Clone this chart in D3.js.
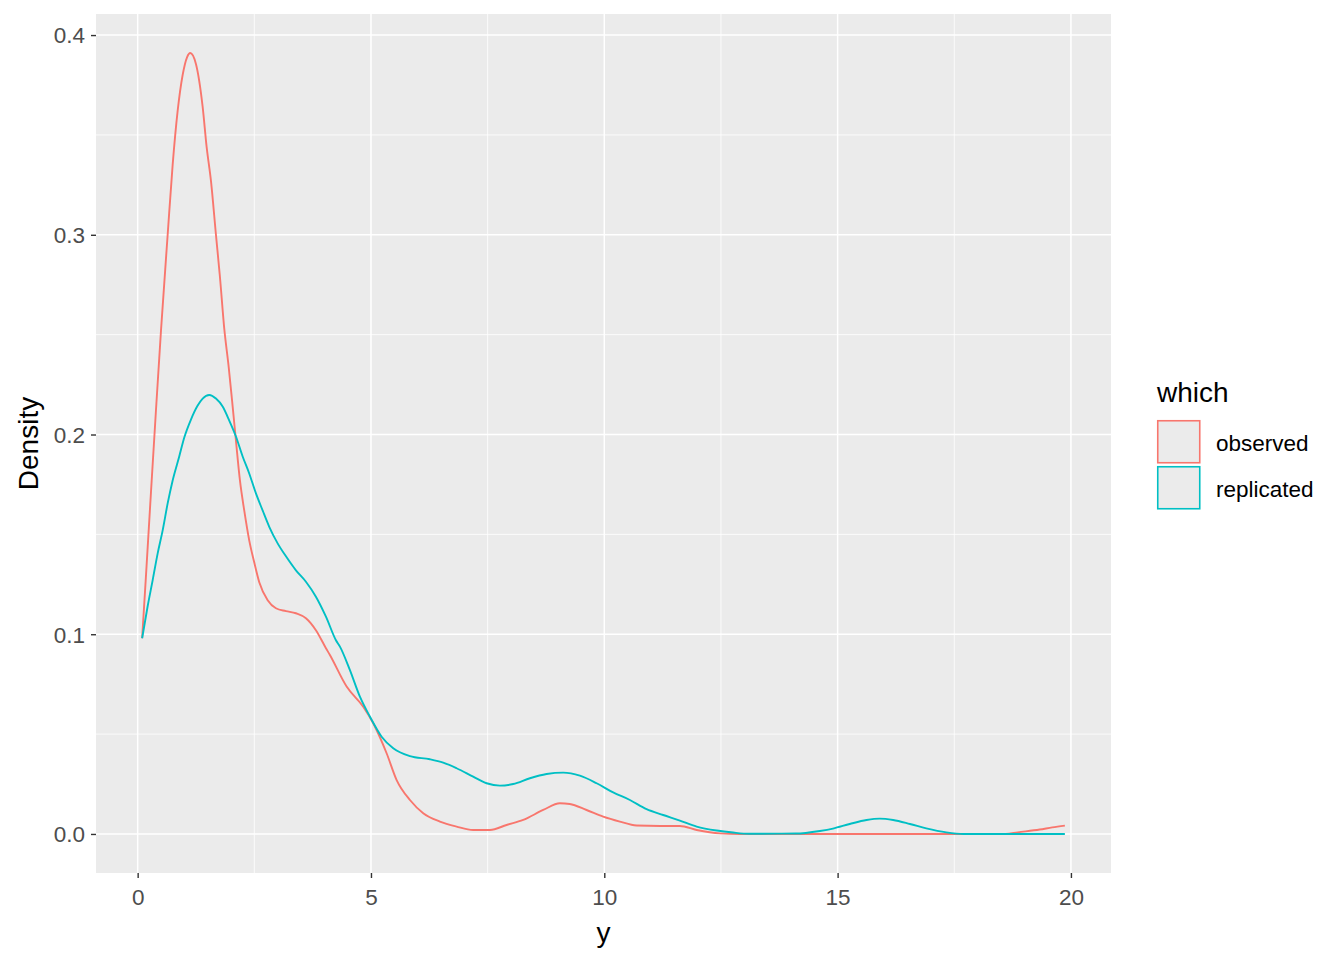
<!DOCTYPE html>
<html>
  <head>
    <meta charset="utf-8">
    <title>Density</title>
    <style>
      body { margin: 0; background: #fff; }
      text { font-family: "Liberation Sans", Arial, sans-serif; }
    </style>
  </head>
  <body>
    <div id="chart"></div>
    <script src="https://cdn.jsdelivr.net/npm/d3@7"></script>
    <script>
      var seriesNames = ['observed', 'replicated'];
      var seriesColors = ['#F8766D', '#00BFC4'];
      var xTicks = [0, 5, 10, 15, 20];
      var yTicks = [0.0, 0.1, 0.2, 0.3, 0.4];
      var yTickLabels = ['0.0', '0.1', '0.2', '0.3', '0.4'];

      // observed density
      var obsX = [0.096, 0.18, 0.285, 0.392, 0.5, 0.643, 0.75, 0.857, 0.964, 1.06, 1.127, 1.249, 1.393, 1.478,
        1.571, 1.678, 1.763, 1.856, 1.95, 2.036, 2.106, 2.192, 2.284, 2.391, 2.498, 2.606, 2.786, 2.963,
        3.178, 3.392, 3.606, 3.82, 4.035, 4.12, 4.478, 4.834, 5.048, 5.335, 5.55, 5.835, 6.12, 6.477,
        6.835, 7.19, 7.55, 7.906, 8.262, 8.69, 9.05, 9.26, 9.62, 9.976, 10.334, 10.69, 11.2, 11.62,
        11.98, 12.48, 12.9, 15.0, 18.6, 18.86, 19.33, 19.6, 19.87];
      var obsY = [0.098, 0.130, 0.171, 0.212, 0.252, 0.300, 0.335, 0.362, 0.380, 0.389, 0.391, 0.3855, 0.364, 0.344,
        0.327, 0.300, 0.279, 0.253, 0.234, 0.214, 0.197, 0.177, 0.162, 0.147, 0.136, 0.126, 0.117, 0.113,
        0.1116, 0.1105, 0.108, 0.102, 0.093, 0.0896, 0.0738, 0.0637, 0.0554, 0.0404, 0.027, 0.017, 0.0104, 0.0062,
        0.0037, 0.002, 0.002, 0.0045, 0.007, 0.012, 0.0154, 0.015, 0.012, 0.0087, 0.0062, 0.0042, 0.004, 0.004,
        0.002, 0.0003, 0.0, 0.0, 0.0, 0.0008, 0.0022, 0.0033, 0.0042];

      // replicated density
      var repX = [0.096, 0.214, 0.321, 0.429, 0.536, 0.643, 0.75, 0.891, 0.999, 1.142, 1.286, 1.393, 1.534,
        1.678, 1.821, 1.963, 2.106, 2.25, 2.391, 2.535, 2.678, 2.82, 3.0, 3.178, 3.392, 3.606, 3.82, 4.035,
        4.249, 4.335, 4.549, 4.763, 4.978, 5.228, 5.477, 5.835, 6.263, 6.548, 6.835, 7.19, 7.478, 7.763,
        8.048, 8.406, 8.764, 9.12, 9.477, 9.835, 10.19, 10.549, 10.906, 11.262, 11.62, 11.98, 12.41, 12.76,
        13.1, 14.1, 14.62, 14.9, 15.26, 15.62, 15.9, 16.19, 16.55, 16.9, 17.33, 17.7, 19.87];
      var repY = [0.098, 0.114, 0.127, 0.1405, 0.152, 0.1655, 0.177, 0.189, 0.1985, 0.2075, 0.2145, 0.218, 0.2198,
        0.218, 0.214, 0.207, 0.199, 0.189, 0.1805, 0.1705, 0.162, 0.1538, 0.1455, 0.139, 0.132, 0.1263, 0.1188, 0.1088,
        0.097, 0.0938, 0.082, 0.0687, 0.0587, 0.0487, 0.0429, 0.039, 0.0374, 0.0357, 0.0329, 0.0287, 0.0254, 0.0242,
        0.025, 0.0279, 0.030, 0.0307, 0.0292, 0.0254, 0.0208, 0.017, 0.0124, 0.0095, 0.0067, 0.0037, 0.0017, 0.0007,
        0.0001, 0.0002, 0.0015, 0.0027, 0.005, 0.007, 0.0077, 0.007, 0.005, 0.0028, 0.0008, 0.0, 0.0];

      var width = 1344;
      var height = 960;
      var panel = { left: 96, right: 1111, top: 14, bottom: 873 };

      var series = [
        { name: seriesNames[0], color: seriesColors[0], values: d3.zip(obsX, obsY) },
        { name: seriesNames[1], color: seriesColors[1], values: d3.zip(repX, repY) }
      ];

      // ggplot style 5% expansion of the data range
      var xExt = d3.extent(obsX.concat(repX));
      var yMax = d3.max(obsY.concat(repY));
      var xPad = (xExt[1] - xExt[0]) * 0.05;
      var yPad = yMax * 0.05;

      var x = d3.scaleLinear()
        .domain([xExt[0] - xPad, xExt[1] + xPad])
        .range([panel.left, panel.right]);
      var y = d3.scaleLinear()
        .domain([-yPad, yMax + yPad])
        .range([panel.bottom, panel.top]);

      var svg = d3.select('#chart')
        .append('svg')
        .attr('width', width)
        .attr('height', height);

      svg.append('rect')
        .attr('x', panel.left)
        .attr('y', panel.top)
        .attr('width', panel.right - panel.left)
        .attr('height', panel.bottom - panel.top)
        .attr('fill', '#EBEBEB');

      var xMinor = [2.5, 7.5, 12.5, 17.5];
      var yMinor = [0.05, 0.15, 0.25, 0.35];
      var grid = svg.append('g');
      grid.selectAll('.vminor').data(xMinor).enter().append('line')
        .attr('x1', function(d) { return x(d); }).attr('x2', function(d) { return x(d); })
        .attr('y1', panel.top).attr('y2', panel.bottom)
        .attr('stroke', '#fff').attr('stroke-width', 0.8);
      grid.selectAll('.hminor').data(yMinor).enter().append('line')
        .attr('y1', function(d) { return y(d); }).attr('y2', function(d) { return y(d); })
        .attr('x1', panel.left).attr('x2', panel.right)
        .attr('stroke', '#fff').attr('stroke-width', 0.8);
      grid.selectAll('.vmajor').data(xTicks).enter().append('line')
        .attr('x1', function(d) { return x(d); }).attr('x2', function(d) { return x(d); })
        .attr('y1', panel.top).attr('y2', panel.bottom)
        .attr('stroke', '#fff').attr('stroke-width', 1.5);
      grid.selectAll('.hmajor').data(yTicks).enter().append('line')
        .attr('y1', function(d) { return y(d); }).attr('y2', function(d) { return y(d); })
        .attr('x1', panel.left).attr('x2', panel.right)
        .attr('stroke', '#fff').attr('stroke-width', 1.5);

      var line = d3.line()
        .x(function(d) { return x(d[0]); })
        .y(function(d) { return y(Math.max(0, d[1])); })
        .curve(d3.curveMonotoneX);

      svg.selectAll('.series')
        .data(series)
        .enter()
        .append('path')
        .attr('d', function(d) { return line(d.values); })
        .attr('fill', 'none')
        .attr('stroke', function(d) { return d.color; })
        .attr('stroke-width', 1.9);

      // axes
      var xAxis = svg.append('g')
        .attr('transform', 'translate(0,' + panel.bottom + ')')
        .call(d3.axisBottom(x).tickValues(xTicks).tickSize(5).tickPadding(6));
      var yAxis = svg.append('g')
        .attr('transform', 'translate(' + panel.left + ',0)')
        .call(d3.axisLeft(y).tickValues(yTicks)
          .tickFormat(function(d, i) { return yTickLabels[i]; })
          .tickSize(5).tickPadding(6));
      [xAxis, yAxis].forEach(function(a) {
        a.select('.domain').remove();
        a.selectAll('.tick line').attr('stroke', '#333333').attr('stroke-width', 1.4);
        a.selectAll('.tick text')
          .attr('fill', '#4D4D4D')
          .style('font-size', '22.5px')
          .style('font-family', '"Liberation Sans", Arial, sans-serif');
      });
      xAxis.selectAll('.tick text').attr('dy', '0.95em');
      yAxis.selectAll('.tick text').attr('dy', '0.35em');

      svg.append('text')
        .attr('x', (panel.left + panel.right) / 2)
        .attr('y', 942)
        .attr('text-anchor', 'middle')
        .style('font-size', '28px')
        .text('y');
      svg.append('text')
        .attr('transform', 'translate(38,' + ((panel.top + panel.bottom) / 2) + ') rotate(-90)')
        .attr('text-anchor', 'middle')
        .style('font-size', '28px')
        .text('Density');

      // legend
      var legend = svg.append('g').attr('transform', 'translate(1157,0)');
      legend.append('text')
        .attr('x', 0).attr('y', 402)
        .style('font-size', '28px')
        .text('which');
      var keys = legend.selectAll('.key')
        .data(series)
        .enter()
        .append('g')
        .attr('transform', function(d, i) { return 'translate(0,' + (420 + i * 46) + ')'; });
      keys.append('rect')
        .attr('x', 0.75).attr('y', 0.75)
        .attr('width', 42).attr('height', 42)
        .attr('fill', '#EBEBEB')
        .attr('stroke', function(d) { return d.color; })
        .attr('stroke-width', 1.6);
      keys.append('text')
        .attr('x', 59).attr('y', 23)
        .attr('dy', '0.35em')
        .style('font-size', '22.5px')
        .text(function(d) { return d.name; });
    </script>
  </body>
</html>
